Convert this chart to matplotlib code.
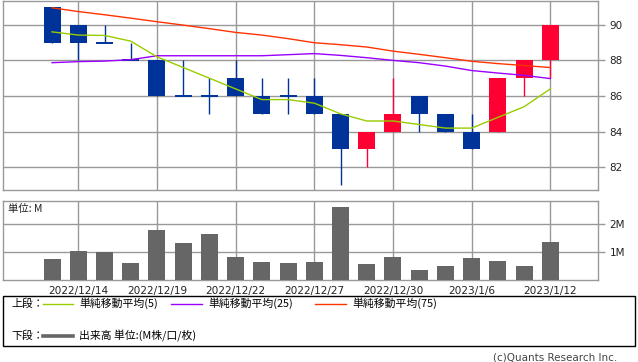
import matplotlib
matplotlib.use("Agg")
import matplotlib.pyplot as plt
from matplotlib.lines import Line2D
from matplotlib.patches import Rectangle
import numpy as np

plt.rcParams['font.family'] = ['DejaVu Sans', 'Noto Sans CJK JP']

dates = ["2022/12/13", "2022/12/14", "2022/12/15", "2022/12/16", "2022/12/19",
         "2022/12/20", "2022/12/21", "2022/12/22", "2022/12/23", "2022/12/26",
         "2022/12/27", "2022/12/28", "2022/12/29", "2022/12/30", "2023/1/4",
         "2023/1/5", "2023/1/6", "2023/1/10", "2023/1/11", "2023/1/12"]
opens  = [91, 90, 89, 88, 88, 86, 86, 87, 86, 86, 86, 85, 83, 84, 86, 85, 84, 84, 87, 88]
highs  = [91, 90, 90, 89, 88, 88, 87, 88, 87, 87, 87, 85, 84, 87, 86, 85, 85, 87, 88, 90]
lows   = [89, 88, 89, 88, 86, 86, 85, 86, 85, 85, 85, 81, 82, 84, 84, 84, 83, 84, 86, 87]
closes = [89, 89, 89, 88, 86, 86, 86, 86, 85, 86, 85, 83, 84, 85, 85, 84, 83, 87, 88, 90]
ma5  = [89.6, 89.42, 89.4, 89.08, 88.2, 87.6, 87.0, 86.4, 85.8, 85.8,
        85.6, 85.0, 84.6, 84.6, 84.4, 84.2, 84.2, 84.8, 85.4, 86.4]
ma25 = [87.87, 87.93, 87.96, 88.04, 88.26, 88.26, 88.26, 88.26, 88.26, 88.32,
        88.38, 88.28, 88.15, 88.0, 87.87, 87.68, 87.43, 87.29, 87.16, 86.98]
ma75 = [90.95, 90.74, 90.56, 90.37, 90.17, 89.98, 89.78, 89.57, 89.42, 89.22,
        88.99, 88.88, 88.75, 88.52, 88.34, 88.15, 87.95, 87.82, 87.71, 87.6]
volume = [0.75, 1.04, 1.0, 0.61, 1.79, 1.32, 1.65, 0.82, 0.64, 0.61,
          0.64, 2.61, 0.57, 0.82, 0.36, 0.50, 0.79, 0.68, 0.50, 1.36]
label_idx = [1, 4, 7, 10, 13, 16, 19]
price_ticks = [82, 84, 86, 88, 90]
vol_ticks = [1, 2]
vol_tick_labels = ["1M", "2M"]

BLUE = "#003399"
RED = "#ff0033"
GRID = "#999999"
W, H = 638, 362

fig = plt.figure(figsize=(W / 100, H / 100), dpi=100)
fig.patch.set_facecolor("white")

def ax_rect(l, t, r, b):
    return [l / W, 1 - b / H, (r - l) / W, (b - t) / H]

ax = fig.add_axes(ax_rect(3.3, 0.5, 598.3, 190.3))
axv = fig.add_axes(ax_rect(3.3, 201.3, 598.3, 280.0))

x = np.arange(len(dates))
xlim = (-1.86, 20.83)
bw = 0.65

for a in (ax, axv):
    a.set_xlim(*xlim)
    a.set_facecolor("white")
    for s in a.spines.values():
        s.set_color(GRID)
        s.set_linewidth(1.0)
    a.set_xticks(label_idx)
    a.grid(True, color=GRID, linewidth=1.0)
    a.set_axisbelow(True)
    a.yaxis.tick_right()
    a.tick_params(axis='y', direction='out', length=5, color=GRID, width=1.0,
                  labelsize=7.5, pad=3, labelcolor="#222222")
    a.tick_params(axis='x', length=0)

# candles
for i in x:
    o, h, l, c = opens[i], highs[i], lows[i], closes[i]
    col = RED if c > o else BLUE
    ax.vlines(i, l, h, color=col, linewidth=1.0, zorder=3)
    if c == o:
        ax.hlines(o, i - bw / 2, i + bw / 2, color=col, linewidth=1.4, zorder=3)
    else:
        ax.bar(i, abs(c - o), bottom=min(o, c), width=bw, color=col,
               edgecolor=col, linewidth=0, zorder=4)

ax.plot(x, ma75, color="#ff3300", linewidth=1.0, zorder=5)
ax.plot(x, ma25, color="#9900ff", linewidth=1.0, zorder=5)
ax.plot(x, ma5, color="#99cc00", linewidth=1.0, zorder=5)

ax.set_ylim(80.71, 91.36)
ax.set_yticks(price_ticks)
ax.set_xticklabels([])

axv.bar(x, volume, width=bw, color="#666666", zorder=3)
axv.set_ylim(0, 2.81)
axv.set_yticks(vol_ticks)
axv.set_yticklabels(vol_tick_labels)
axv.set_xticklabels([dates[i] for i in label_idx], fontsize=7.6, color="#222222")
axv.tick_params(axis='x', pad=4)

fig.text(7.5 / W, 1 - 209 / H, "単位: M", fontsize=7.5, va='center', ha='left',
         family=['Noto Sans CJK JP', 'DejaVu Sans'], color="#222222")

# legend box
fig.add_artist(Rectangle((3.3 / W, 1 - 346 / H), (634.7 - 3.3) / W, 50 / H,
                         transform=fig.transFigure, fill=False, edgecolor="black",
                         linewidth=1.0))
r1 = 1 - 303.5 / H
r2 = 1 - 336 / H
jp = ['Noto Sans CJK JP', 'DejaVu Sans']
fs = 7.8
fig.text(11.5 / W, r1, "上段：", fontsize=fs, va='center', family=jp)
fig.text(11.5 / W, r2, "下段：", fontsize=fs, va='center', family=jp)
for (x0, x1, col, lab) in [(43, 73, "#99cc00", "単純移動平均(5)"),
                           (171, 202, "#9900ff", "単純移動平均(25)"),
                           (315, 346, "#ff3300", "単純移動平均(75)")]:
    fig.add_artist(Line2D([x0 / W, x1 / W], [r1, r1], transform=fig.transFigure,
                          color=col, linewidth=1.0))
    fig.text((x1 + 6) / W, r1, lab, fontsize=fs, va='center', family=jp)
fig.add_artist(Line2D([43 / W, 73 / W], [r2, r2], transform=fig.transFigure,
                      color="#666666", linewidth=2.6))
fig.text(79 / W, r2, "出来高 単位:(M株/口/枚)", fontsize=fs, va='center', family=jp)

fig.text(617 / W, 1 - 357 / H, "(c)Quants Research Inc.", fontsize=7.5,
         ha='right', va='center', color="#444444")

fig.savefig("out.png", dpi=100)
